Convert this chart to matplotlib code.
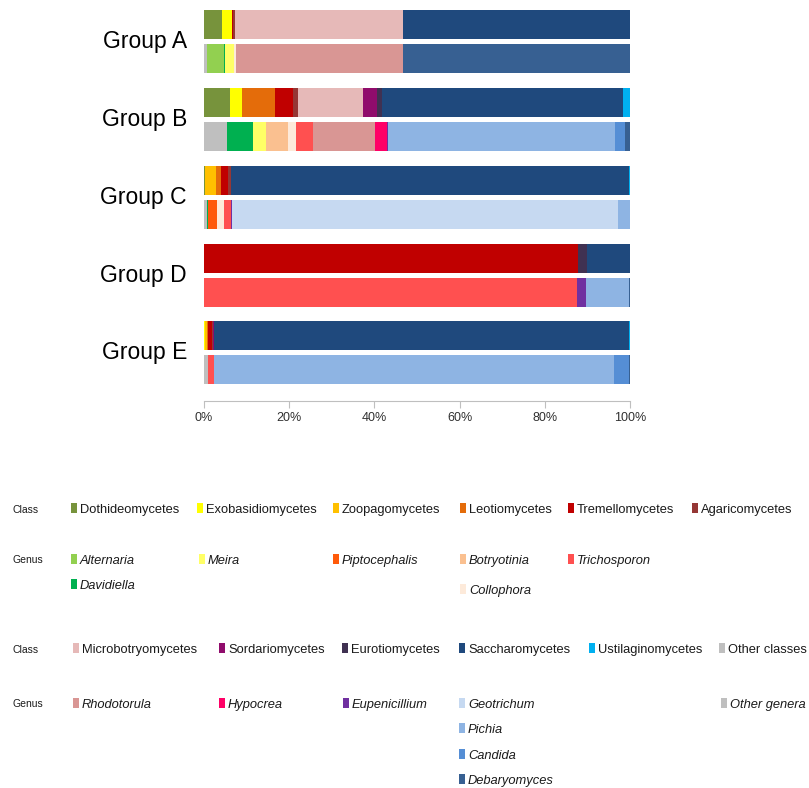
import matplotlib
matplotlib.use("Agg")
import matplotlib.pyplot as plt
from matplotlib.patches import Rectangle

plt.rcParams["font.family"] = ["Liberation Sans", "DejaVu Sans"]

# ── Data ──────────────────────────────────────────────────────────
groups = ["Group A", "Group B", "Group C", "Group D", "Group E"]

class_names = ["Other classes", "Dothideomycetes", "Exobasidiomycetes", "Zoopagomycetes",
               "Leotiomycetes", "Tremellomycetes", "Agaricomycetes", "Microbotryomycetes",
               "Sordariomycetes", "Eurotiomycetes", "Saccharomycetes", "Ustilaginomycetes"]
class_colors = ["#BFBFBF", "#77933C", "#FFFF00", "#FFC000", "#E46C0A", "#C00000",
                "#953735", "#E6B9B8", "#900C6C", "#403152", "#1F497D", "#00B0F0"]

genus_names = ["Other genera", "Alternaria", "Davidiella", "Meira", "Piptocephalis",
               "Botryotinia", "Collophora", "Trichosporon", "Rhodotorula", "Hypocrea",
               "Eupenicillium", "Geotrichum", "Pichia", "Candida", "Debaryomyces"]
genus_colors = ["#BFBFBF", "#92D050", "#00B050", "#FFFF66", "#FF5A0A", "#FAC090",
                "#FDEADA", "#FF5050", "#D99694", "#FF0066", "#7030A0", "#C6D9F1",
                "#8EB4E3", "#558ED5", "#376092"]

# % per class, in class_names order
class_A = [0, 4.3, 2.2, 0, 0, 0.4, 0.4, 39.3, 0, 0, 53.4, 0]
class_B = [0, 6.1, 2.9, 0, 7.7, 4.1, 1.3, 15.3, 3.1, 1.4, 56.5, 1.6]
class_C = [0, 0.3, 0, 2.4, 1.4, 1.6, 0.6, 0, 0, 0, 93.5, 0.2]
class_D = [0, 0, 0, 0, 0, 87.7, 0, 0, 0, 2.2, 10.1, 0]
class_E = [0, 0, 0.2, 0.4, 0.3, 0.9, 0.2, 0, 0.4, 0, 97.4, 0.2]

# % per genus, in genus_names order
genus_A = [0.6, 4.1, 0.2, 2.2, 0, 0, 0.3, 0, 39.4, 0, 0, 0, 0, 0, 53.2]
genus_B = [5.3, 0, 6.3, 2.9, 0, 5.3, 1.8, 3.9, 14.6, 2.8, 0.4, 0, 53.2, 2.3, 1.2]
genus_C = [0.6, 0, 0.3, 0, 2.2, 0, 1.5, 1.7, 0, 0.1, 0.1, 90.6, 2.8, 0, 0.1]
genus_D = [0, 0, 0, 0, 0, 0, 0, 87.5, 0, 0, 2.1, 0, 10.2, 0, 0.2]
genus_E = [1.0, 0, 0, 0, 0, 0, 0, 1.3, 0, 0, 0, 0, 93.9, 3.6, 0.2]

class_rows = [class_A, class_B, class_C, class_D, class_E]
genus_rows = [genus_A, genus_B, genus_C, genus_D, genus_E]

xticks = [0, 20, 40, 60, 80, 100]
xtick_labels = ["0%", "20%", "40%", "60%", "80%", "100%"]

# ── Figure ────────────────────────────────────────────────────────
W, H = 809, 788
fig = plt.figure(figsize=(W / 100, H / 100), dpi=100)

# bar axes, vertical units in pixels
ax = fig.add_axes([204 / W, 1 - 401 / H, (630 - 204) / W, (401 - 5) / H])
ax.set_xlim(0, 100)
ax.set_ylim(401, 5)

bar_h = 29
for g in range(len(groups)):
    y_class = 24.7 + g * 77.8
    y_genus = y_class + 34
    left = 0
    for v, c in zip(class_rows[g], class_colors):
        if v > 0:
            ax.barh(y_class, v, left=left, height=bar_h, color=c, linewidth=0)
        left += v
    left = 0
    for v, c in zip(genus_rows[g], genus_colors):
        if v > 0:
            ax.barh(y_genus, v, left=left, height=bar_h, color=c, linewidth=0)
        left += v
    ax.text(-4, (y_class + y_genus) / 2, groups[g], ha="right", va="center",
            fontsize=16.5, color="black", clip_on=False)

for s in ["top", "right", "left"]:
    ax.spines[s].set_visible(False)
ax.spines["bottom"].set_color("#BFBFBF")
ax.set_yticks([])
ax.set_xticks(xticks)
ax.set_xticklabels(xtick_labels, fontsize=9)
ax.tick_params(axis="x", colors="#BFBFBF", length=5, labelcolor="#303030", pad=3)

# ── Legend (hand placed, pixel coords) ────────────────────────────
lg = fig.add_axes([0, 0, 1, 1])
lg.set_xlim(0, W)
lg.set_ylim(H, 0)
lg.axis("off")


def item(x, y, name, color, italic=False):
    lg.add_patch(Rectangle((x, y - 5), 6.5, 10, color=color, linewidth=0))
    lg.text(x + 9, y + 5, name, ha="left", va="baseline", fontsize=9.3,
            style="italic" if italic else "normal", color="#1a1a1a")


def row_label(y, txt):
    lg.text(13, y + 1, txt, ha="left", va="center", fontsize=7.5, color="#1a1a1a")


cmap = dict(zip(class_names, class_colors))
gmap = dict(zip(genus_names, genus_colors))

row_label(509, "Class")
for x, n in [(71, "Dothideomycetes"), (197, "Exobasidiomycetes"), (333, "Zoopagomycetes"),
             (460, "Leotiomycetes"), (568, "Tremellomycetes"), (692, "Agaricomycetes")]:
    item(x, 508, n, cmap[n])

row_label(559, "Genus")
for x, y, n in [(71, 559, "Alternaria"), (199, 559, "Meira"), (333, 559, "Piptocephalis"),
                (460, 559, "Botryotinia"), (568, 559, "Trichosporon"),
                (71, 584, "Davidiella"), (460, 589, "Collophora")]:
    item(x, y, n, gmap[n], italic=True)

row_label(649, "Class")
for x, n in [(73, "Microbotryomycetes"), (219, "Sordariomycetes"), (342, "Eurotiomycetes"),
             (459, "Saccharomycetes"), (589, "Ustilaginomycetes"), (719, "Other classes")]:
    item(x, 648, n, cmap[n])

row_label(703, "Genus")
for x, y, n in [(73, 703, "Rhodotorula"), (219, 703, "Hypocrea"), (343, 703, "Eupenicillium"),
                (459, 703, "Geotrichum"), (459, 728, "Pichia"), (459, 754, "Candida"),
                (459, 779, "Debaryomyces"), (721, 703, "Other genera")]:
    item(x, y, n, gmap[n], italic=True)

fig.savefig("out.png", dpi=100)
